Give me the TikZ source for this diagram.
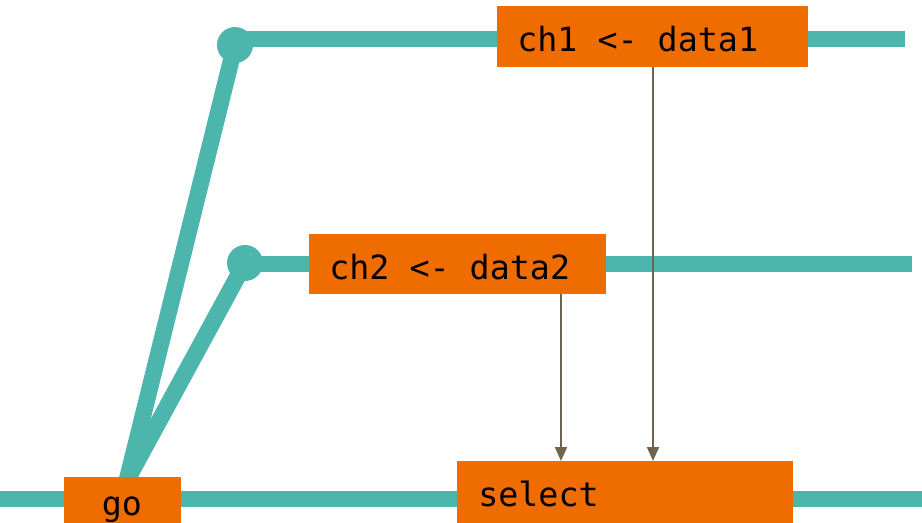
\documentclass[tikz,border=0pt]{standalone}
\usepackage{fontspec}
\newfontfamily\codefont{DejaVu Sans Mono}
\usetikzlibrary{arrows.meta}
\definecolor{track}{HTML}{4DB6AC}
\definecolor{boxfill}{HTML}{EF6C00}
\definecolor{msg}{HTML}{6E6450}
\tikzset{
  lane/.style={draw=track, line width=12.5pt},
  knot/.style={fill=track},
  opbox/.style={fill=boxfill, inner sep=0pt, outer sep=0pt, anchor=north west},
  code/.style={font=\codefont\fontsize{25}{30}\selectfont, inner sep=0pt, text=black},
  send/.style={draw=msg, line width=1.5pt, -{Triangle[length=10.5pt,width=9pt]}}
}
\begin{document}
\begin{tikzpicture}[x=0.75pt,y=-0.75pt]
\useasboundingbox (0,0) rectangle (922,522);

% goroutine timelines
\coordinate (spawn) at (127,480);
\coordinate (fork1) at (235,45);
\coordinate (fork2) at (245,263);
\coordinate (end1) at (905,39);
\coordinate (end2) at (912,264);
\coordinate (mainL) at (0,499);
\coordinate (mainR) at (922,499);

\draw[lane] (mainL) -- (mainR);
\draw[lane] (fork1 |- end1) -- (end1);
\draw[lane] (fork2 |- end2) -- (end2);
\draw[lane] (spawn) -- (fork1);
\draw[lane] (spawn) -- (fork2);
\fill[knot] (fork1) circle[radius=13.5pt];
\fill[knot] (fork2) circle[radius=13.5pt];

% operations
\node[opbox, minimum width=233.25pt, minimum height=45.75pt] (ch1) at (497,6) {};
\node[code, anchor=base west] (ch1t) at (517,51) {ch1 <- data1};

\node[opbox, minimum width=222.75pt, minimum height=45pt] (ch2) at (309,234) {};
\node[code, anchor=base west] (ch2t) at (329,279) {ch2 <- data2};

\node[opbox, minimum width=252pt, minimum height=51.75pt] (select) at (457,461) {};
\node[code, anchor=base west] (selectt) at (478,506) {select};

\node[opbox, minimum width=87.75pt, minimum height=39.75pt] (go) at (64,477) {};
\node[code, anchor=base] (got) at (122,515) {go};

% channel sends
\coordinate (x1) at (653,0);
\coordinate (x2) at (561,0);
\draw[send] (ch1.south -| x1) -- (select.north -| x1);
\draw[send] (ch2.south -| x2) -- (select.north -| x2);
\end{tikzpicture}
\end{document}
